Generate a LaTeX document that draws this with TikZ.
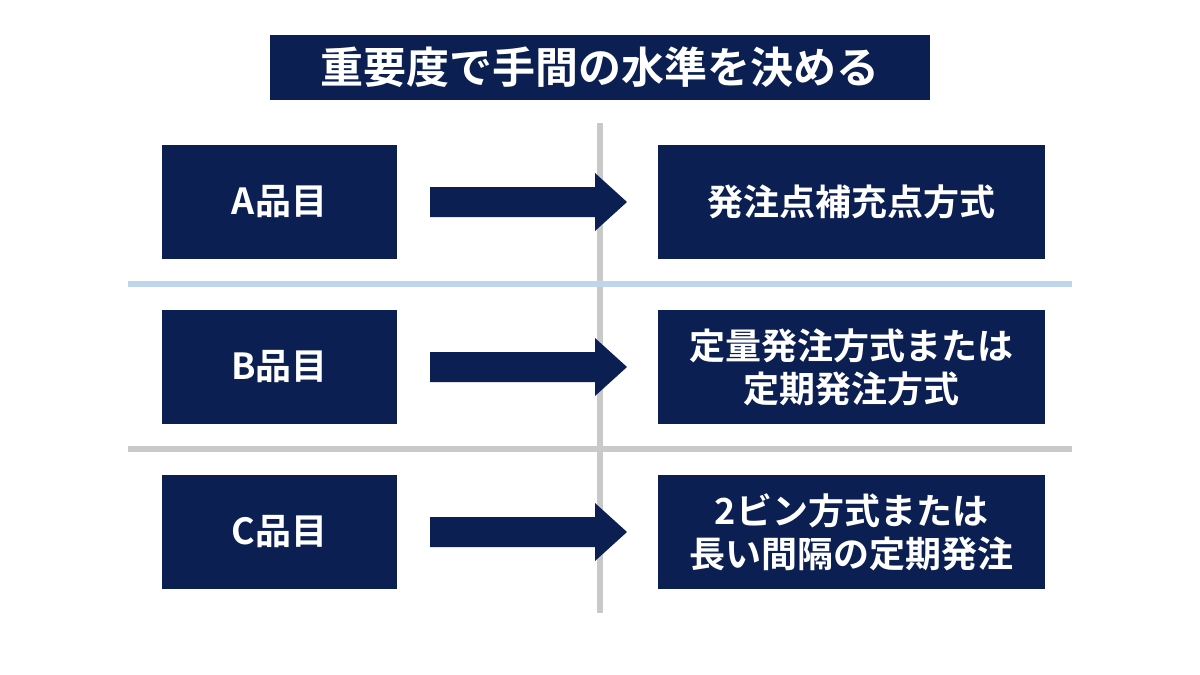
\documentclass[tikz,border=0pt]{standalone}
\usepackage{fontspec}
\setmainfont{Noto Sans CJK JP}[BoldFont={* Bold}]
\definecolor{navy}{HTML}{0B1F52}
\definecolor{sep}{HTML}{C9C9C9}
\definecolor{lblue}{HTML}{BED5EC}
\begin{document}
\begin{tikzpicture}[x=1pt,y=-1pt,
 box/.style={fill=navy,text=white,font=\bfseries\fontsize{36}{43}\selectfont,align=center,inner sep=0},
 arr/.style={fill=navy}]
\useasboundingbox (0,0) rectangle (1200,675);
\fill[white] (0,0) rectangle (1200,675);
\node[box,minimum width=660,minimum height=65,font=\bfseries\fontsize{43}{50}\selectfont] (title) at (600,67.5) {重要度で手間の水準を決める};
\draw[sep,line width=6] (600,123) -- (600,613);
\draw[lblue,line width=6] (128,284) -- (1072,284);
\draw[sep,line width=6] (128,449) -- (1072,449);
\foreach \n/\y/\l/\r in {a/202/A品目/発注点補充点方式, b/367/B品目/{定量発注方式または\\定期発注方式}, c/532/C品目/{2ビン方式または\\長い間隔の定期発注}}{
 \node[box,minimum width=235,minimum height=114] (\n L) at (279.5,\y) {\l};
 \node[box,minimum width=387,minimum height=114] (\n R) at (851.5,\y) {\r};
 \fill[arr] (430,\y-15) -- (595,\y-15) -- (595,\y-29) -- (627,\y) -- (595,\y+29) -- (595,\y+15) -- (430,\y+15) -- cycle;
}
\end{tikzpicture}
\end{document}
